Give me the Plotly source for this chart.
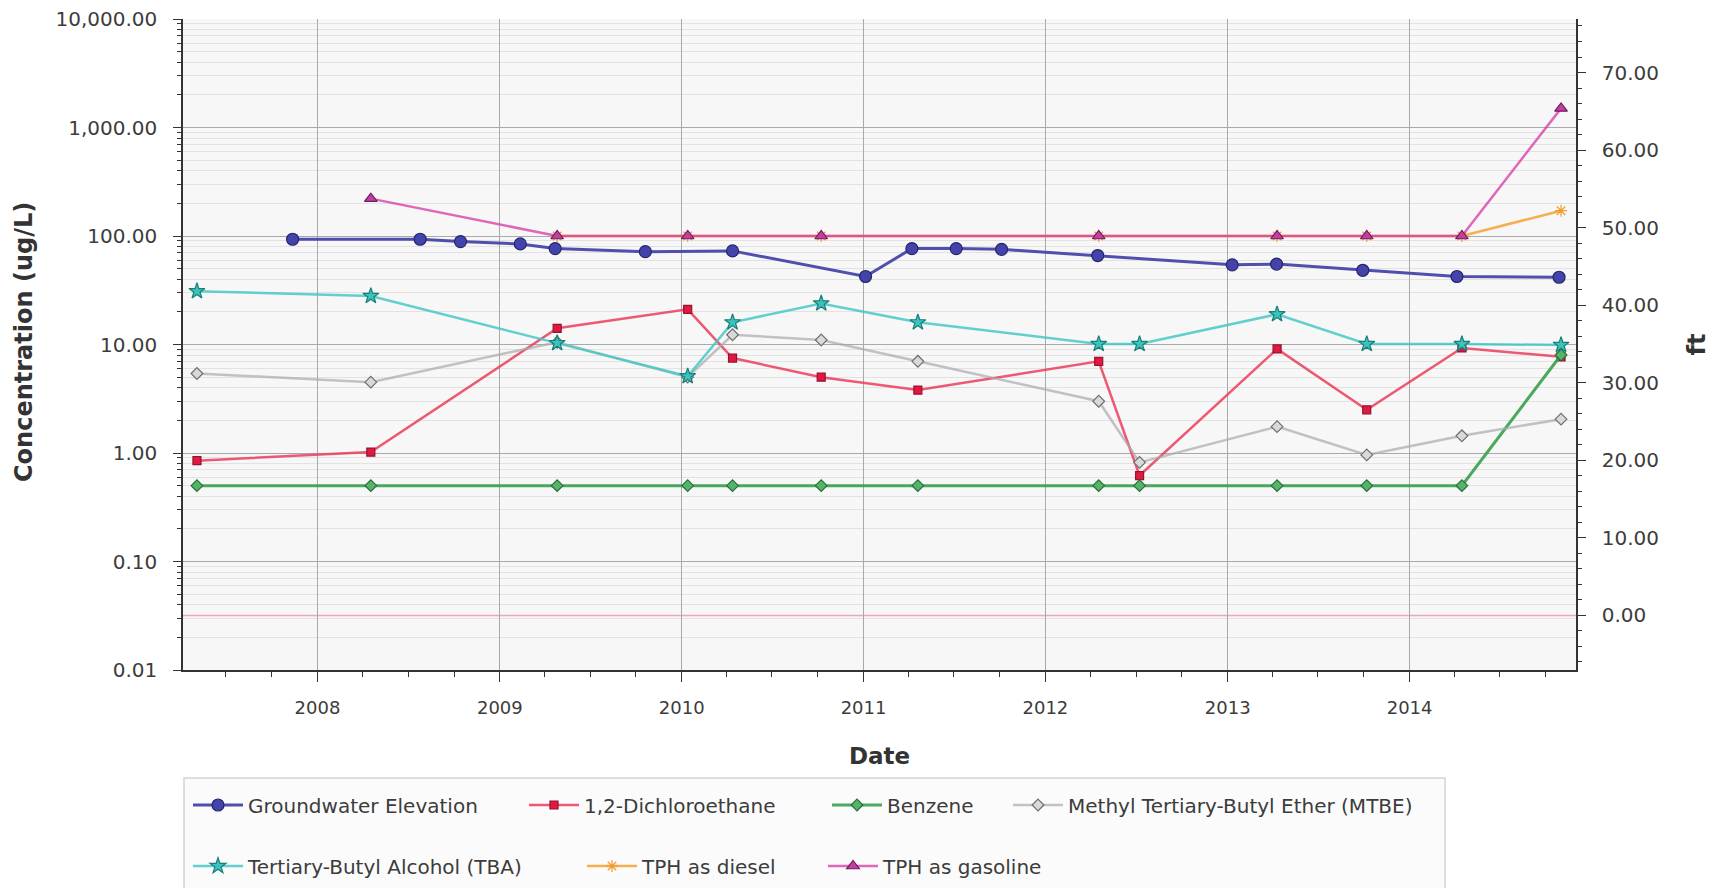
import plotly.graph_objects as go

# ---------------- data ----------------
chem_dates = ["2007-05-04", "2008-04-17", "2009-04-26", "2010-01-13", "2010-04-13",
              "2010-10-08", "2011-04-20", "2012-04-17", "2012-07-08", "2013-04-10",
              "2013-10-07", "2014-04-16", "2014-11-01"]

gw_dates = ["2007-11-12", "2008-07-25", "2008-10-14", "2009-02-11", "2009-04-22",
            "2009-10-20", "2010-04-13", "2011-01-05", "2011-04-08", "2011-07-06",
            "2011-10-05", "2012-04-15", "2013-01-10", "2013-04-09", "2013-09-29",
            "2014-04-06", "2014-10-28"]
gw_ft = [48.5, 48.5, 48.2, 47.9, 47.3, 46.9, 47.0, 43.7, 47.3, 47.3,
         47.2, 46.4, 45.2, 45.3, 44.5, 43.7, 43.6]

dca = [0.85, 1.02, 14.1, 21.1, 7.5, 5.0, 3.8, 7.0, 0.62, 9.1, 2.5, 9.3, 7.7]
benzene = [0.5, 0.5, 0.5, 0.5, 0.5, 0.5, 0.5, 0.5, 0.5, 0.5, 0.5, 0.5, 8.0]
mtbe = [5.4, 4.5, 10.5, 5.0, 12.3, 11.0, 7.0, 3.0, 0.82, 1.75, 0.96, 1.44, 2.05]
tba = [31.0, 28.0, 10.3, 5.1, 16.0, 23.9, 16.0, 10.1, 10.1, 19.0, 10.1, 10.1, 9.9]

diesel_dates = ["2009-04-26", "2010-01-13", "2010-10-08", "2012-04-17", "2013-04-10",
                "2013-10-07", "2014-04-16", "2014-11-01"]
diesel = [100, 100, 100, 100, 100, 100, 100, 171]

gas_dates = ["2008-04-17", "2009-04-26", "2010-01-13", "2010-10-08", "2012-04-17",
             "2013-04-10", "2013-10-07", "2014-04-16", "2014-11-01"]
gasoline = [221, 100, 100, 100, 100, 100, 100, 100, 1500]

left_ticks = [0.01, 0.1, 1, 10, 100, 1000, 10000]
left_text = ["0.01", "0.10", "1.00", "10.00", "100.00", "1,000.00", "10,000.00"]
right_ticks = [0, 10, 20, 30, 40, 50, 60, 70]
right_text = ["0.00", "10.00", "20.00", "30.00", "40.00", "50.00", "60.00", "70.00"]

# ---------------- layout geometry ----------------
W, H = 1713, 888
L, R, T, B = 183, 137, 19, 218
PW, PH = W - L - R, H - T - B

def px_x(px):
    return (px - L) / PW

def px_y(py):
    return (H - B - py) / PH

FONT = "DejaVu Sans"
TXT = "#3c3c3c"

fig = go.Figure()

def add(name, x, y, line_color, mcolor, mline, symbol, size, legend, yaxis="y", lw=2.5):
    fig.add_trace(go.Scatter(
        x=x, y=y, name=name, mode="lines+markers", yaxis=yaxis, legend=legend,
        line=dict(color=line_color, width=lw),
        marker=dict(symbol=symbol, size=size, color=mcolor,
                    line=dict(color=mline, width=1.2)),
    ))

add("Groundwater Elevation", gw_dates, gw_ft, "rgba(70,70,170,0.95)", "#4343ab", "#26266e",
    "circle", 12, "legend", yaxis="y2", lw=3)
add("1,2-Dichloroethane", chem_dates, dca, "rgba(236,60,90,0.85)", "#e0193f", "#9a1030",
    "square", 8, "legend2")
add("Benzene", chem_dates, benzene, "rgba(55,160,75,0.9)", "#58b368", "#23713a",
    "diamond", 9, "legend3", lw=3)
add("Methyl Tertiary-Butyl Ether (MTBE)", chem_dates, mtbe, "rgba(170,170,170,0.7)", "#d9d9d9",
    "#6e6e6e", "diamond", 9, "legend4")
add("Tertiary-Butyl Alcohol (TBA)", chem_dates, tba, "rgba(70,200,200,0.85)", "#3cc3bb",
    "#187e7a", "star", 12, "legend5")
add("TPH as diesel", diesel_dates, diesel, "rgba(245,165,60,0.9)", "#f39a2c", "#b06010",
    "asterisk-open", 10, "legend6")
add("TPH as gasoline", gas_dates, gasoline, "rgba(215,55,165,0.75)", "#c23fa3", "#6f1c5c",
    "triangle-up", 11, "legend7")

# legends, one per entry, placed by the start of their text as in the reference
ITEMW = 50
leg_pos = {
    "legend": (248, 805), "legend2": (584, 805), "legend3": (887, 805), "legend4": (1068, 805),
    "legend5": (248, 866), "legend6": (642, 866), "legend7": (883, 866),
}
legends = {}
for k, (tx, ty) in leg_pos.items():
    legends[k] = dict(
        x=px_x(tx - ITEMW - 10), y=px_y(ty), xanchor="left", yanchor="middle",
        orientation="h", bgcolor="rgba(0,0,0,0)", borderwidth=0, itemwidth=ITEMW,
        font=dict(family=FONT, size=20, color=TXT),
    )

minor_log = [m * 10 ** e for e in range(-2, 4) for m in range(2, 10)]

fig.update_layout(
    width=W, height=H,
    margin=dict(l=L, r=R, t=T, b=B, autoexpand=False),
    paper_bgcolor="white", plot_bgcolor="#f7f7f7",
    font=dict(family=FONT, size=19, color=TXT),
    showlegend=True,
    **legends,
    xaxis=dict(
        type="date", range=["2007-04-06", "2014-12-01"],
        tick0="2008-01-01", dtick="M12", tickformat="%Y",
        ticks="outside", ticklen=10, tickcolor="#333", tickwidth=1,
        showgrid=True, gridcolor="#a9a9a9", gridwidth=1,
        showline=True, linecolor="#333", linewidth=1.5, mirror=False,
        tickfont=dict(family=FONT, size=18, color=TXT),
        ticklabelstandoff=11,
        minor=dict(dtick="M3", ticks="outside", ticklen=5, tickcolor="#333", showgrid=False),
        title=dict(text="<b>Date</b>", font=dict(family=FONT, size=23, color="#333"), standoff=31),
        zeroline=False,
    ),
    yaxis=dict(
        type="log", range=[-2, 4],
        tickvals=left_ticks, ticktext=left_text,
        ticks="outside", ticklen=8, tickcolor="#333",
        showgrid=True, gridcolor="#a9a9a9", gridwidth=1,
        showline=True, linecolor="#333", linewidth=1.5,
        tickfont=dict(family=FONT, size=20, color=TXT),
        ticklabelstandoff=12,
        minor=dict(tickvals=minor_log, ticks="outside", ticklen=4, tickcolor="#333",
                   showgrid=True, gridcolor="#e2e2e2", gridwidth=1),
        zeroline=False,
    ),
    yaxis2=dict(
        overlaying="y", side="right", range=[-7.04, 76.9],
        tickvals=right_ticks, ticktext=right_text,
        ticks="outside", ticklen=8, tickcolor="#333",
        showgrid=False, showline=True, linecolor="#333", linewidth=1.5,
        tickfont=dict(family=FONT, size=20, color=TXT),
        ticklabelstandoff=12,
        minor=dict(dtick=2, ticks="outside", ticklen=4, tickcolor="#333", showgrid=False),
        title=dict(text="<b>ft</b>", font=dict(family=FONT, size=24, color="#333"), standoff=30),
        zeroline=False,
    ),
    annotations=[
        dict(text="<b>Concentration (ug/L)</b>", textangle=-90, showarrow=False,
             xref="paper", yref="paper", x=px_x(24), y=px_y(342),
             xanchor="center", yanchor="middle",
             font=dict(family=FONT, size=24, color="#333")),
    ],
    shapes=[
        dict(type="line", xref="paper", x0=0, x1=1, yref="y2", y0=0, y1=0,
             line=dict(color="#f2a3b3", width=1.5), layer="below"),
        dict(type="rect", xref="paper", yref="paper",
             x0=px_x(184), x1=px_x(1445), y0=px_y(778), y1=px_y(900),
             line=dict(color="#d4d4d4", width=1.5), fillcolor="#fbfbfb", layer="below"),
    ],
)

fig.write_html("out.html")
